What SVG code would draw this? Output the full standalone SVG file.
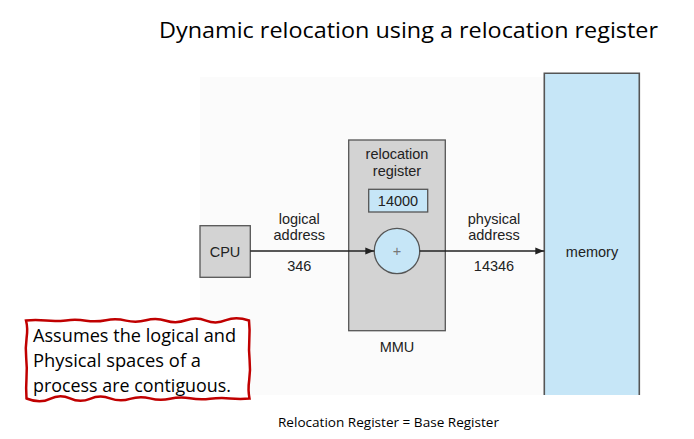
<svg xmlns="http://www.w3.org/2000/svg" width="694" height="439" viewBox="0 0 694 439">
<style>
.lbl{font-family:"Liberation Sans",Arial,sans-serif;font-size:14.5px;fill:#222;text-anchor:middle}
.cal{font-family:"Open Sans","Noto Sans",sans-serif;fill:#000}
.box{stroke:#555;stroke-width:1.3}
.conn{stroke:#222;stroke-width:1.6;fill:none}
</style>
<defs>
<marker id="ah" viewBox="0 0 10 10" refX="10" refY="5" markerWidth="9" markerHeight="9" markerUnits="userSpaceOnUse" orient="auto">
<path d="M0,1 L10,5 L0,9 Z" fill="#222"/>
</marker>
</defs>
<rect width="694" height="439" fill="#fff"/>
<rect x="200" y="77" width="344" height="318" fill="#fbfbfb"/>
<text class="cal" x="159" y="38" font-size="21" textLength="499" lengthAdjust="spacingAndGlyphs">Dynamic relocation using a relocation register</text>

<g id="mmu">
<rect class="box" x="348.7" y="140" width="96.6" height="190.7" fill="#d3d3d3"/>
<text class="lbl" x="397" y="159">relocation</text>
<text class="lbl" x="397" y="175.7">register</text>
<text class="lbl" x="397" y="352">MMU</text>
</g>
<g id="reg">
<rect class="box" x="368.7" y="189.3" width="59" height="22.7" fill="#c6e6f7"/>
<text class="lbl" x="398" y="205.7">14000</text>
</g>
<g id="adder">
<circle class="box" cx="397" cy="251" r="22.7" fill="#c6e6f7"/>
<text class="lbl" x="397" y="256" style="fill:#777">+</text>
</g>
<g id="cpu">
<rect class="box" x="200" y="225.7" width="50.3" height="51.6" fill="#d3d3d3"/>
<text class="lbl" x="225" y="256.7">CPU</text>
</g>
<g id="memory">
<path d="M544.3,395 V73.3 H639.3 V395" fill="#c6e6f7" stroke="#555" stroke-width="1.6"/>
<text class="lbl" x="592" y="257">memory</text>
</g>

<g id="connectors">
<line class="conn" x1="250.3" y1="251" x2="374.3" y2="251" marker-end="url(#ah)"/>
<line class="conn" x1="419.7" y1="251" x2="544.3" y2="251" marker-end="url(#ah)"/>
<text class="lbl" x="299.3" y="224">logical</text>
<text class="lbl" x="299.3" y="240">address</text>
<text class="lbl" x="299.3" y="270.7">346</text>
<text class="lbl" x="494" y="224">physical</text>
<text class="lbl" x="494" y="240">address</text>
<text class="lbl" x="494" y="270.7">14346</text>
</g>

<g id="note">
<path d="M26,320.5 Q36,319.6 46,320.6 T66,320.4 T86,320.7 T106,320.2 T126,320.6 T146,320.3 T166,320.7 T186,320.3 T206,320.6 T226,320.2 T249,320.5 Q250,330 249.3,340 T249.6,360 T249.2,380 T249.5,398.5 Q240,399.3 230,398.4 T210,398.8 T190,398.3 T170,398.8 T150,398.4 T130,398.9 T110,398.3 T90,398.8 T70,398.4 T50,398.8 T26.5,398.5 Q25.8,388 26.5,378 T26.2,358 T26.6,338 T26,320.5 Z" fill="#fff" stroke="#c00000" stroke-width="2.5"/>
<text class="cal" x="33" y="342" font-size="17.5" textLength="203" lengthAdjust="spacingAndGlyphs">Assumes the logical and</text>
<text class="cal" x="33" y="367" font-size="17.5" textLength="168" lengthAdjust="spacingAndGlyphs">Physical spaces of a</text>
<text class="cal" x="33" y="391.5" font-size="17.5" textLength="198" lengthAdjust="spacingAndGlyphs">process are contiguous.</text>
</g>

<text class="cal" x="278" y="427" font-size="13.5" textLength="221" lengthAdjust="spacingAndGlyphs">Relocation Register = Base Register</text>
</svg>
